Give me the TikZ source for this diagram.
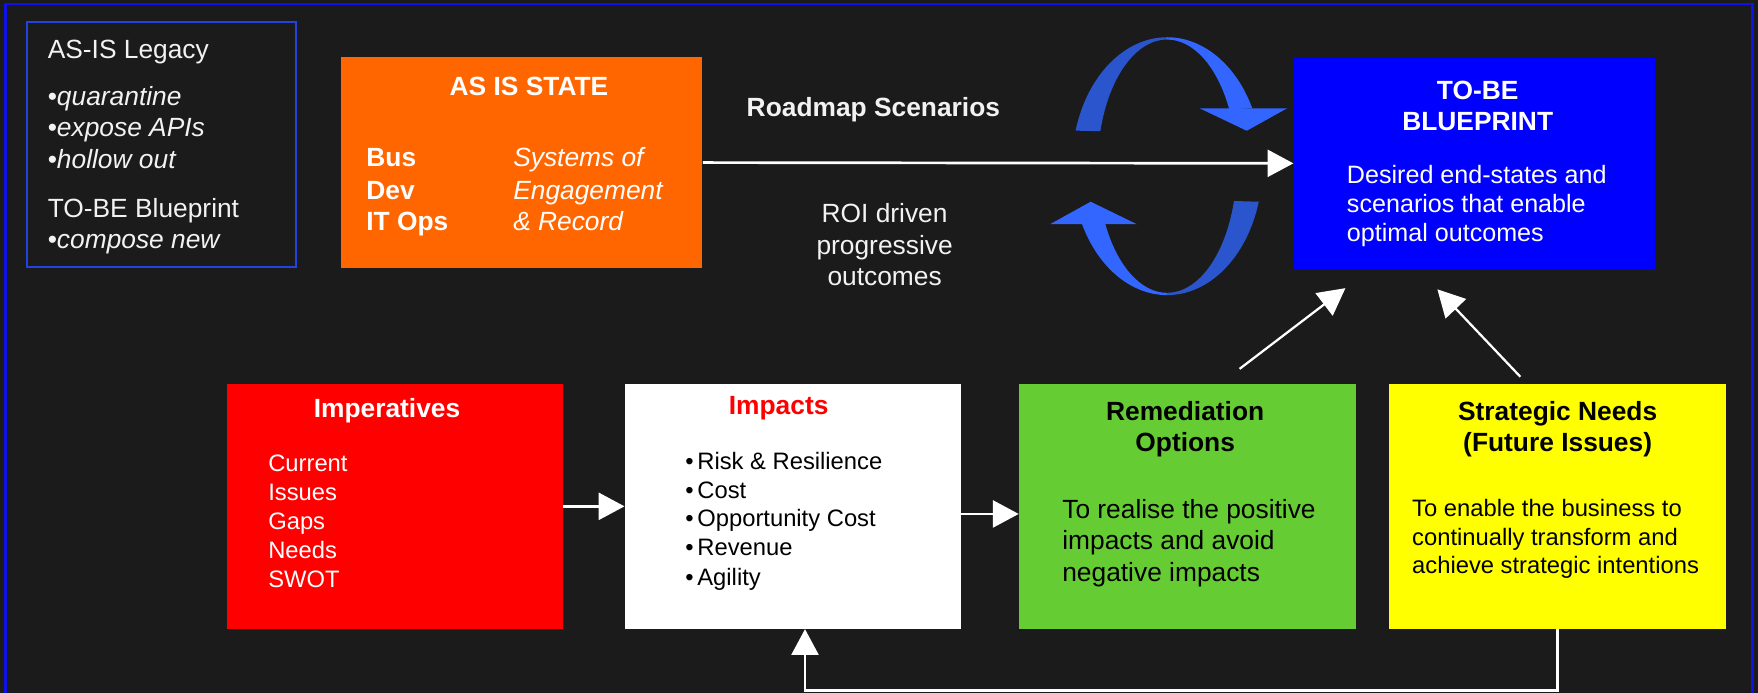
\documentclass[tikz,border=0pt]{standalone}
\usepackage{fontspec}
\setmainfont{Liberation Sans}
\usetikzlibrary{arrows.meta}
\definecolor{bg}{HTML}{1B1B1B}
\definecolor{frameblue}{HTML}{1010E8}
\definecolor{legblue}{HTML}{2442E0}
\definecolor{asis}{HTML}{FF6600}
\definecolor{tobe}{HTML}{0000FF}
\definecolor{impred}{HTML}{FF0000}
\definecolor{remgreen}{HTML}{66CC33}
\definecolor{stratyellow}{HTML}{FFFF00}
\definecolor{ringbright}{HTML}{3366FF}
\definecolor{ringdark}{HTML}{2B55CC}
\definecolor{softwhite}{HTML}{F2F2F2}
\tikzset{
  box/.style={rectangle, inner sep=0pt, draw=none},
  ttl/.style={inner sep=0pt, font=\fontsize{11.75}{14}\selectfont\bfseries},
  txt/.style={inner sep=0pt, font=\fontsize{11.75}{14}\selectfont},
  sml/.style={inner sep=0pt, font=\fontsize{10.6}{13}\selectfont},
  mid/.style={inner sep=0pt, font=\fontsize{11.2}{13}\selectfont},
  arr/.style={draw=white, line width=1.2pt, -{Triangle[length=11.5pt,width=12pt]}},
  darr/.style={draw=white, line width=1pt, -{Triangle[length=12pt,width=12.5pt]}},
}
\begin{document}
\begin{tikzpicture}[x=0.5pt,y=-0.5pt]
\fill[bg] (0,0) rectangle (1568,618);
\useasboundingbox (0,0) rectangle (1568,618);
\draw[frameblue, line width=1pt] (5,3.6) rectangle (1563,630);

% legend
\node[box, draw=legblue, line width=0.9pt, minimum width=119.75pt, minimum height=109.35pt] (legend) at (144.25,128.65) {};
\node[txt, text=softwhite, anchor=base west] (lg1) at (42.2,52) {AS-IS Legacy};
\node[txt, text=softwhite, anchor=base west] (lg2) at (42.2,93.7) {•\textit{quarantine}};
\node[txt, text=softwhite, anchor=base west] (lg3) at (42.2,121.9) {•\textit{expose APIs}};
\node[txt, text=softwhite, anchor=base west] (lg4) at (42.2,150.1) {•\textit{hollow out}};
\node[txt, text=softwhite, anchor=base west] (lg5) at (42.2,193.8) {TO-BE Blueprint};
\node[txt, text=softwhite, anchor=base west] (lg6) at (42.2,221.5) {•\textit{compose new}};

% AS IS STATE
\node[box, fill=asis, minimum width=161.25pt, minimum height=94pt] (asisbox) at (465.25,145) {};
\node[ttl, text=white, anchor=base] (asist) at (471.8,85.3) {AS IS STATE};
\node[ttl, text=white, anchor=base west] (bus) at (326.4,148.7) {Bus};
\node[ttl, text=white, anchor=base west] (dev) at (326.4,177.5) {Dev};
\node[ttl, text=white, anchor=base west] (itops) at (326.4,205.7) {IT Ops};
\node[txt, text=white, anchor=base west] (sys1) at (457.4,148.7) {\textit{Systems of}};
\node[txt, text=white, anchor=base west] (sys2) at (457.4,177.5) {\textit{Engagement}};
\node[txt, text=white, anchor=base west] (sys3) at (457.4,205.7) {\textit{\& Record}};

% TO-BE
\node[box, fill=tobe, minimum width=161pt, minimum height=94.3pt] (tobebox) at (1315,145.7) {};
\node[ttl, text=white, anchor=base] (tb1) at (1318,88.3) {TO-BE};
\node[ttl, text=white, anchor=base] (tb2) at (1318,116.8) {BLUEPRINT};
\node[mid, text=white, anchor=base west] (tb3) at (1201,163.5) {Desired end-states and};
\node[mid, text=white, anchor=base west] (tb4) at (1201,189.7) {scenarios that enable};
\node[mid, text=white, anchor=base west] (tb5) at (1201,215.6) {optimal outcomes};

% middle labels
\node[ttl, text=softwhite, anchor=base] (road) at (779,104) {Roadmap Scenarios};
\node[txt, text=softwhite, anchor=base] (roi1) at (789,198.3) {ROI driven};
\node[txt, text=softwhite, anchor=base] (roi2) at (789,226.8) {progressive};
\node[txt, text=softwhite, anchor=base] (roi3) at (789,254.8) {outcomes};

% rotating arrows
\fill[ringdark] (1041,148.2) ++(196:85 and 115) arc[start angle=196, end angle=270, x radius=85, y radius=115]
  -- (1041,35.2) arc[start angle=270, end angle=196, x radius=62, y radius=113] -- cycle;
\fill[ringbright] (1041,148.2) ++(270:85 and 115) arc[start angle=270, end angle=333.3, x radius=85, y radius=115]
  -- (1096.4,97.5) arc[start angle=333.3, end angle=270, x radius=62, y radius=113] -- cycle;
\fill[ringbright] (1070,96.6) -- (1148,96.6) -- (1112,116.6) -- cycle;
\fill[ringbright] (1041,148.2) ++(153.3:85 and 115) arc[start angle=153.3, end angle=90, x radius=85, y radius=115]
  -- (1041,261.2) arc[start angle=90, end angle=153.3, x radius=62, y radius=113] -- cycle;
\fill[ringdark] (1041,148.2) ++(90:85 and 115) arc[start angle=90, end angle=16, x radius=85, y radius=115]
  -- (1100.6,179.3) arc[start angle=16, end angle=90, x radius=62, y radius=113] -- cycle;
\fill[ringbright] (936.5,200) -- (1014,200) -- (972.8,179.9) -- cycle;

% bottom boxes
\node[box, fill=impred, minimum width=149.75pt, minimum height=109.1pt] (imper) at (352.25,451.6) {};
\node[ttl, text=white, anchor=base] (impert) at (345.2,372.2) {Imperatives};
\node[sml, text=white, anchor=base west] (ip1) at (238.9,420.7) {Current};
\node[sml, text=white, anchor=base west] (ip2) at (238.9,446.5) {Issues};
\node[sml, text=white, anchor=base west] (ip3) at (238.9,472.1) {Gaps};
\node[sml, text=white, anchor=base west] (ip4) at (238.9,498.3) {Needs};
\node[sml, text=white, anchor=base west] (ip5) at (238.9,523.8) {SWOT};

\node[box, fill=white, minimum width=149.8pt, minimum height=109.1pt] (impacts) at (707.2,451.6) {};
\node[ttl, text=impred, anchor=base] (impt) at (694.5,370.1) {Impacts};
\node[sml, text=black, anchor=base west] (ic1) at (611,418.3) {•\hspace{1.6pt}Risk \& Resilience};
\node[sml, text=black, anchor=base west] (ic2) at (611,444.5) {•\hspace{1.6pt}Cost};
\node[sml, text=black, anchor=base west] (ic3) at (611,469.7) {•\hspace{1.6pt}Opportunity Cost};
\node[sml, text=black, anchor=base west] (ic4) at (611,495.6) {•\hspace{1.6pt}Revenue};
\node[sml, text=black, anchor=base west] (ic5) at (611,521.8) {•\hspace{1.6pt}Agility};

\node[box, fill=remgreen, minimum width=150pt, minimum height=109.1pt] (rem) at (1059,451.6) {};
\node[ttl, text=black, anchor=base] (remt1) at (1057.1,374.6) {Remediation};
\node[ttl, text=black, anchor=base] (remt2) at (1057.1,402.8) {Options};
\node[txt, text=black, anchor=base west] (rb1) at (947.1,462.3) {To realise the positive};
\node[txt, text=black, anchor=base west] (rb2) at (947.1,490.5) {impacts and avoid};
\node[txt, text=black, anchor=base west] (rb3) at (947.1,518.8) {negative impacts};

\node[box, fill=stratyellow, minimum width=150.25pt, minimum height=109.1pt] (strat) at (1389.25,451.6) {};
\node[ttl, text=black, anchor=base] (st1) at (1389.3,374.6) {Strategic Needs};
\node[ttl, text=black, anchor=base] (st2) at (1389.3,402.8) {(Future Issues)};
\node[sml, text=black, anchor=base west] (sb1) at (1259.2,460.8) {To enable the business to};
\node[sml, text=black, anchor=base west] (sb2) at (1259.2,486.1) {continually transform and};
\node[sml, text=black, anchor=base west] (sb3) at (1259.2,511.4) {achieve strategic intentions};

% connectors
\coordinate (r3) at (0,458.4);
\coordinate (fb) at (718,616);
\coordinate (remfrom) at (1105.6,329);
\coordinate (remto) at (1200,257);
\coordinate (strfrom) at (1356,336);
\coordinate (strto) at (1282,258);
\draw[arr] (asisbox.east) -- (tobebox.west);
\draw[arr] (imper.east) -- (impacts.west);
\draw[arr] (impacts.east |- r3) -- (rem.west |- r3);
\draw[darr] (remfrom) -- (remto);
\draw[darr] (strfrom) -- (strto);
\draw[arr] (strat.south) |- (fb) -- (fb |- impacts.south);
\end{tikzpicture}
\end{document}
